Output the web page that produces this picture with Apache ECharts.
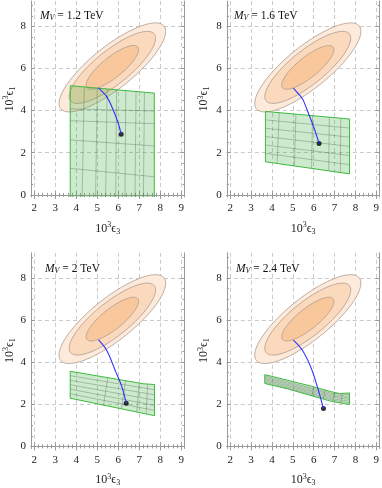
<!DOCTYPE html>
<html>
<head>
<meta charset="utf-8">
<script src="https://cdn.jsdelivr.net/npm/echarts@6/dist/echarts.min.js"></script>
<style>
  html, body { margin: 0; padding: 0; background: #fff; }
  #main { width: 382px; height: 488px; }
</style>
</head>
<body>
<div id="main"></div>
<script>
// panel labels (M_V in TeV)
const panelMasses = ['1.2', '1.6', '2', '2.4'];

const xTicks = [2, 3, 4, 5, 6, 7, 8, 9];
const yTicks = [0, 2, 4, 6, 8];

// experimental ellipses, same in every panel: outer, middle, inner
const ellipseCenter = [5.72, 6.05];
const ellipseAngle = 38.5; // degrees
const semiMajor = [3.15, 2.55, 1.55];
const semiMinor = [1.0, 0.81, 0.49];

// green allowed regions
const regionOutline = [
  [[3.71, -0.1], [3.71, 5.18], [7.72, 4.83], [7.72, -0.1]],
  [[3.69, 3.96], [7.72, 3.60], [7.72, 1.00], [3.69, 1.57], [3.69, 3.96]],
  [[3.71, 3.57], [6.6, 3.08], [7.2, 2.975], [7.73, 2.94], [7.73, 1.46], [3.71, 2.29], [3.71, 3.57]],
  [[3.66, 3.41], [4.77, 3.14], [5.89, 2.86], [6.85, 2.60], [7.25, 2.51], [7.72, 2.54], [7.72, 1.99],
   [6.85, 2.14], [5.89, 2.41], [4.77, 2.73], [3.66, 2.99], [3.66, 3.41]]
];

const meshRows = [
  [[[3.71, 4.08], [7.72, 3.98]], [[3.71, 3.52], [7.72, 3.38]], [[3.71, 2.61], [7.72, 2.32]], [[3.71, 1.26], [7.72, 0.86]]],
  [[[3.69, 3.56], [7.72, 3.17]], [[3.69, 3.16], [7.72, 2.74]], [[3.69, 2.77], [7.72, 2.30]],
   [[3.69, 2.37], [7.72, 1.87]], [[3.69, 1.97], [7.72, 1.43]]],
  [[[3.71, 3.36], [7.73, 2.69]], [[3.71, 3.14], [7.73, 2.45]], [[3.71, 2.93], [7.73, 2.20]],
   [[3.71, 2.72], [7.73, 1.95]], [[3.71, 2.50], [7.73, 1.71]]],
  [[[3.66, 3.35], [6.85, 2.53], [7.72, 2.46]], [[3.66, 3.29], [6.85, 2.47], [7.72, 2.38]],
   [[3.66, 3.23], [6.85, 2.40], [7.72, 2.30]], [[3.66, 3.17], [6.85, 2.34], [7.72, 2.23]],
   [[3.66, 3.11], [6.85, 2.27], [7.72, 2.15]], [[3.66, 3.05], [6.85, 2.21], [7.72, 2.07]]]
];

const meshCols = [
  [[[4.38, 5.12], [4.28, -0.1]], [[5.0, 5.07], [4.92, -0.1]], [[5.47, 5.03], [5.4, -0.1]], [[5.92, 4.99], [5.88, -0.1]],
   [[6.36, 4.95], [6.32, -0.1]], [[6.85, 4.91], [6.8, -0.1]], [[7.25, 4.87], [7.2, -0.1]]],
  [[[4.35, 3.90], [4.25, 1.49]], [[5.15, 3.83], [5.08, 1.37]], [[5.95, 3.76], [5.9, 1.26]],
   [[6.75, 3.69], [6.72, 1.14]], [[7.3, 3.64], [7.28, 1.06]]],
  [[[5.5, 3.26], [5.3, 1.96]], [[6.35, 3.12], [6.15, 1.79]], [[7.0, 3.01], [6.88, 1.64]], [[7.4, 2.96], [7.33, 1.54]]],
  [[[6.0, 2.83], [5.92, 2.40]], [[6.55, 2.68], [6.47, 2.25]], [[7.0, 2.57], [6.92, 2.13]], [[7.38, 2.52], [7.3, 2.06]]]
];

// blue flow lines, last point = black dot
const flowCurves = [
  [[5.05, 5.08], [5.45, 4.66], [5.76, 4.03], [6.0, 3.40], [6.14, 2.88]],
  [[5.03, 5.07], [5.38, 4.67], [5.49, 4.52], [5.81, 3.72], [6.05, 3.09], [6.26, 2.44]],
  [[5.06, 5.06], [5.46, 4.55], [5.86, 3.60], [6.18, 2.81], [6.38, 2.05]],
  [[5.03, 5.05], [5.46, 4.57], [5.86, 3.78], [6.18, 2.83], [6.47, 1.80]]
];

const FONT = 'Liberation Serif';
const frameColor = '#9a9a9a';
const ellipseFills = ['#fdeadb', '#fbd9bd', '#f9c79c'];
const xRange = [1.84, 9.16];
const yRange = [-0.1, 9.2];
const xMinorTicks = [];
for (let v = 20; v <= 90; v += 2) xMinorTicks.push(v / 10);
const yMinorTicks = [];
for (let v = 0; v <= 18; v++) yMinorTicks.push(v / 2);

const gridBoxes = [
  { left: 31, top: 1, width: 153.5, height: 196 },
  { left: 226.8, top: 1, width: 153.5, height: 196 },
  { left: 31, top: 252.8, width: 153.5, height: 196 },
  { left: 226.8, top: 252.8, width: 153.5, height: 196 }
];
const titlePos = [[40, 9], [234, 9], [45, 262], [236, 262]];

const nameRich = {
  b: { fontFamily: FONT, fontSize: 12, color: '#222' },
  sup: { fontFamily: FONT, fontSize: 8, color: '#222', padding: [0, 0, 7, 0] },
  sub: { fontFamily: FONT, fontSize: 8, color: '#222', padding: [6, 0, 0, 0] }
};

function ellipseItem(params, api) {
  const k = api.value(2);
  const th = ellipseAngle * Math.PI / 180;
  const pts = [];
  for (let i = 0; i < 120; i++) {
    const t = 2 * Math.PI * i / 120;
    const p = semiMajor[k] * Math.cos(t);
    const q = semiMinor[k] * Math.sin(t);
    pts.push(api.coord([
      ellipseCenter[0] + p * Math.cos(th) - q * Math.sin(th),
      ellipseCenter[1] + p * Math.sin(th) + q * Math.cos(th)
    ]));
  }
  return {
    type: 'polygon',
    shape: { points: pts },
    style: { fill: ellipseFills[k], stroke: '#ab9a8e', lineWidth: 0.8 }
  };
}

function regionRenderer(p) {
  return function (params, api) {
    const px = line => line.map(pt => api.coord(pt));
    const children = [{
      type: 'polygon',
      shape: { points: px(regionOutline[p]) },
      style: { fill: 'rgba(60,172,60,0.25)' }
    }];
    meshRows[p].concat(meshCols[p]).forEach(l => {
      children.push({
        type: 'polyline',
        shape: { points: px(l) },
        style: { fill: null, stroke: 'rgba(55,75,55,0.5)', lineWidth: 0.6 }
      });
    });
    children.push({
      type: 'polyline',
      shape: { points: px(regionOutline[p]) },
      style: { fill: null, stroke: '#3dba3d', lineWidth: 1 }
    });
    return { type: 'group', children: children };
  };
}

const xAxes = [];
const yAxes = [];
gridBoxes.forEach((g, i) => {
  const xc = { type: 'value', gridIndex: i, min: xRange[0], max: xRange[1] };
  const yc = { type: 'value', gridIndex: i, min: yRange[0], max: yRange[1] };
  const noLabel = { show: false };
  const noSplit = { show: false };
  xAxes.push(Object.assign({}, xc, {
    position: 'bottom',
    name: '{b|10}{sup|3}{b|ϵ}{sub|3}', nameLocation: 'middle', nameGap: 24,
    nameTextStyle: { rich: nameRich },
    axisLine: { show: true, lineStyle: { color: frameColor } },
    axisTick: { show: true, inside: true, length: 4, customValues: xTicks, lineStyle: { color: frameColor } },
    axisLabel: { show: true, customValues: xTicks, margin: 6, fontFamily: FONT, fontSize: 11, color: '#222' },
    splitLine: { show: true, lineStyle: { color: '#cacaca', type: [4, 3] } }
  }));
  xAxes.push(Object.assign({}, xc, {
    position: 'bottom', axisLine: { show: false },
    axisTick: { show: true, inside: true, length: 2, customValues: xMinorTicks, lineStyle: { color: frameColor } },
    axisLabel: noLabel, splitLine: noSplit
  }));
  xAxes.push(Object.assign({}, xc, {
    position: 'top', axisLine: { show: true, lineStyle: { color: frameColor } },
    axisTick: { show: true, inside: true, length: 4, customValues: xTicks, lineStyle: { color: frameColor } },
    axisLabel: noLabel, splitLine: noSplit
  }));
  xAxes.push(Object.assign({}, xc, {
    position: 'top', axisLine: { show: false },
    axisTick: { show: true, inside: true, length: 2, customValues: xMinorTicks, lineStyle: { color: frameColor } },
    axisLabel: noLabel, splitLine: noSplit
  }));

  yAxes.push(Object.assign({}, yc, {
    position: 'left',
    name: '{b|10}{sup|3}{b|ϵ}{sub|1}', nameLocation: 'middle', nameGap: i % 2 ? 15 : 12.5, nameRotate: 90,
    nameTextStyle: { rich: nameRich },
    axisLine: { show: true, lineStyle: { color: frameColor } },
    axisTick: { show: true, inside: true, length: 4, customValues: yTicks, lineStyle: { color: frameColor } },
    axisLabel: { show: true, customValues: yTicks, margin: 5, fontFamily: FONT, fontSize: 11, color: '#222' },
    splitLine: { show: true, lineStyle: { color: '#cacaca', type: [4, 3] } }
  }));
  yAxes.push(Object.assign({}, yc, {
    position: 'left', axisLine: { show: false },
    axisTick: { show: true, inside: true, length: 2, customValues: yMinorTicks, lineStyle: { color: frameColor } },
    axisLabel: noLabel, splitLine: noSplit
  }));
  yAxes.push(Object.assign({}, yc, {
    position: 'right', axisLine: { show: true, lineStyle: { color: frameColor } },
    axisTick: { show: true, inside: true, length: 4, customValues: yTicks, lineStyle: { color: frameColor } },
    axisLabel: noLabel, splitLine: noSplit
  }));
  yAxes.push(Object.assign({}, yc, {
    position: 'right', axisLine: { show: false },
    axisTick: { show: true, inside: true, length: 2, customValues: yMinorTicks, lineStyle: { color: frameColor } },
    axisLabel: noLabel, splitLine: noSplit
  }));
});

const series = [];
for (let i = 0; i < 4; i++) {
  const ax = { xAxisIndex: 4 * i, yAxisIndex: 4 * i };
  series.push(Object.assign({
    type: 'custom', silent: true,
    renderItem: ellipseItem,
    data: semiMajor.map((a, k) => [ellipseCenter[0], ellipseCenter[1], k])
  }, ax));
  series.push(Object.assign({
    type: 'custom', silent: true,
    renderItem: regionRenderer(i),
    data: [regionOutline[i][1]]
  }, ax));
  series.push(Object.assign({
    type: 'line', data: flowCurves[i], smooth: 0.35, symbol: 'none',
    lineStyle: { color: '#2f2fff', width: 1.1 }
  }, ax));
  series.push(Object.assign({
    type: 'scatter', data: [flowCurves[i][flowCurves[i].length - 1]],
    symbolSize: 5, itemStyle: { color: '#000' }
  }, ax));
}

const chart = echarts.init(document.getElementById('main'));
chart.setOption({
  animation: false,
  backgroundColor: '#fff',
  title: panelMasses.map((m, i) => ({
    text: '{m|M}{v|V}{t| = ' + m + ' TeV}',
    left: titlePos[i][0], top: titlePos[i][1], padding: 0,
    textStyle: {
      fontWeight: 'normal',
      rich: {
        m: { fontFamily: FONT, fontStyle: 'italic', fontWeight: 'normal', fontSize: 11.5, color: '#111' },
        v: { fontFamily: FONT, fontStyle: 'italic', fontWeight: 'normal', fontSize: 8, color: '#111', padding: [5, 0, 0, 0] },
        t: { fontFamily: FONT, fontWeight: 'normal', fontSize: 11.5, color: '#111' }
      }
    }
  })),
  grid: gridBoxes,
  xAxis: xAxes,
  yAxis: yAxes,
  series: series
});
</script>
</body>
</html>
